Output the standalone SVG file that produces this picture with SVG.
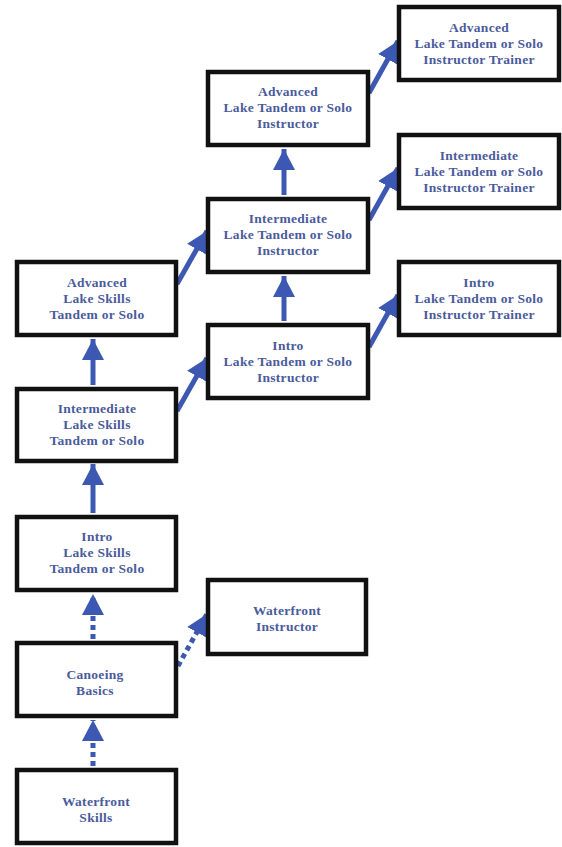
<svg xmlns="http://www.w3.org/2000/svg" width="562" height="847" viewBox="0 0 562 847">
<style>
.box{fill:#fff;stroke:#111;stroke-width:4.5}
.t{font-family:"Liberation Serif","Times New Roman",serif;font-weight:bold;font-size:13.5px;fill:#4a5b9c;text-anchor:middle;letter-spacing:0.3px}
.a{stroke:#3d58b2;stroke-width:5;fill:none}
.d{stroke-dasharray:5 4}
</style>
<defs>
<marker id="ah" markerUnits="userSpaceOnUse" markerWidth="22" markerHeight="22" viewBox="0 0 20 20" refX="19" refY="10" orient="auto">
<path d="M0,0 L19,10 L0,20 Z" fill="#3d58b2"/>
</marker>
</defs>
<rect width="562" height="847" fill="#fff"/>
<g id="connectors">
<line class="a" x1="93" y1="385" x2="93" y2="339" marker-end="url(#ah)"/>
<line class="a" x1="93" y1="513" x2="93" y2="464" marker-end="url(#ah)"/>
<line class="a d" x1="93" y1="639" x2="93" y2="594" marker-end="url(#ah)"/>
<line class="a d" x1="93" y1="766" x2="93" y2="720" marker-end="url(#ah)"/>
<line class="a d" x1="178" y1="666" x2="207" y2="614" marker-end="url(#ah)"/>
<line class="a" x1="177" y1="411" x2="207" y2="358" marker-end="url(#ah)"/>
<line class="a" x1="177" y1="284" x2="207" y2="231" marker-end="url(#ah)"/>
<line class="a" x1="284" y1="321" x2="284" y2="276" marker-end="url(#ah)"/>
<line class="a" x1="284" y1="195" x2="284" y2="149" marker-end="url(#ah)"/>
<line class="a" x1="369" y1="93" x2="398" y2="41" marker-end="url(#ah)"/>
<line class="a" x1="369" y1="220" x2="398" y2="168" marker-end="url(#ah)"/>
<line class="a" x1="369" y1="347" x2="398" y2="295" marker-end="url(#ah)"/>
</g>
<g id="adv-trainer">
<rect class="box" x="399" y="7" width="160" height="73"/>
<text class="t" x="479" y="32">Advanced</text>
<text class="t" x="479" y="48">Lake Tandem or Solo</text>
<text class="t" x="479" y="64">Instructor Trainer</text>
</g>
<g id="int-trainer">
<rect class="box" x="399" y="135" width="160" height="73"/>
<text class="t" x="479" y="160">Intermediate</text>
<text class="t" x="479" y="176">Lake Tandem or Solo</text>
<text class="t" x="479" y="192">Instructor Trainer</text>
</g>
<g id="intro-trainer">
<rect class="box" x="399" y="262" width="160" height="73"/>
<text class="t" x="479" y="287">Intro</text>
<text class="t" x="479" y="303">Lake Tandem or Solo</text>
<text class="t" x="479" y="319">Instructor Trainer</text>
</g>
<g id="adv-instructor">
<rect class="box" x="208" y="72" width="160" height="73"/>
<text class="t" x="288" y="96">Advanced</text>
<text class="t" x="288" y="112">Lake Tandem or Solo</text>
<text class="t" x="288" y="128">Instructor</text>
</g>
<g id="int-instructor">
<rect class="box" x="208" y="199" width="160" height="73"/>
<text class="t" x="288" y="223">Intermediate</text>
<text class="t" x="288" y="239">Lake Tandem or Solo</text>
<text class="t" x="288" y="255">Instructor</text>
</g>
<g id="intro-instructor">
<rect class="box" x="208" y="325" width="160" height="73"/>
<text class="t" x="288" y="350">Intro</text>
<text class="t" x="288" y="366">Lake Tandem or Solo</text>
<text class="t" x="288" y="382">Instructor</text>
</g>
<g id="adv-lake">
<rect class="box" x="17" y="262" width="159" height="73"/>
<text class="t" x="97" y="287">Advanced</text>
<text class="t" x="97" y="303">Lake Skills</text>
<text class="t" x="97" y="319">Tandem or Solo</text>
</g>
<g id="int-lake">
<rect class="box" x="17" y="389" width="159" height="72"/>
<text class="t" x="97" y="413">Intermediate</text>
<text class="t" x="97" y="429">Lake Skills</text>
<text class="t" x="97" y="445">Tandem or Solo</text>
</g>
<g id="intro-lake">
<rect class="box" x="17" y="517" width="159" height="73"/>
<text class="t" x="97" y="541">Intro</text>
<text class="t" x="97" y="557">Lake Skills</text>
<text class="t" x="97" y="573">Tandem or Solo</text>
</g>
<g id="wf-instructor">
<rect class="box" x="208" y="580" width="158" height="74"/>
<text class="t" x="287" y="615">Waterfront</text>
<text class="t" x="287" y="631">Instructor</text>
</g>
<g id="canoe-basics">
<rect class="box" x="17" y="643" width="159" height="73"/>
<text class="t" x="95" y="679">Canoeing</text>
<text class="t" x="95" y="695">Basics</text>
</g>
<g id="wf-skills">
<rect class="box" x="17" y="770" width="159" height="73"/>
<text class="t" x="96" y="806">Waterfront</text>
<text class="t" x="96" y="822">Skills</text>
</g>
</svg>
